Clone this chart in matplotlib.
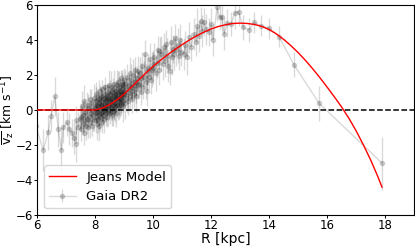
import numpy as np
import matplotlib
matplotlib.use("Agg")
import matplotlib.pyplot as plt

# Jeans model curve
r_model = [6.0, 7.0, 8.0, 8.25, 8.5, 8.75, 9.0, 9.25, 9.5, 9.75, 10.0, 10.25, 10.5,
           10.75, 11.0, 11.25, 11.5, 11.75, 12.0, 12.25, 12.5, 12.75, 13.0, 13.25,
           13.5, 13.75, 14.0, 14.25, 14.5, 14.75, 15.0, 15.25, 15.5, 15.75, 16.0,
           16.25, 16.5, 16.75, 17.0, 17.25, 17.5, 17.75, 17.89]
vz_model = [0.0, 0.0, 0.0, 0.11, 0.31, 0.58, 0.92, 1.31, 1.72, 2.12, 2.5, 2.84, 3.16,
            3.46, 3.74, 4.0, 4.24, 4.45, 4.63, 4.77, 4.87, 4.94, 4.96, 4.94,
            4.88, 4.77, 4.59, 4.34, 4.03, 3.67, 3.27, 2.83, 2.35, 1.84, 1.3,
            0.74, 0.16, -0.48, -1.2, -2.0, -2.86, -3.82, -4.41]

# Gaia DR2 binned points
r_gaia = [5.95, 6.2, 6.37, 6.48, 6.6, 6.72, 6.83, 6.9, 7.03, 7.1, 7.2, 7.27, 7.32, 7.35, 7.41, 7.47,
          7.50, 7.52, 7.54, 7.56, 7.58, 7.60, 7.62, 7.64, 7.66, 7.68, 7.70, 7.72, 7.74,
          7.76, 7.78, 7.80, 7.82, 7.84, 7.86, 7.88, 7.90, 7.92, 7.94, 7.96, 7.98,
          8.00, 8.01, 8.02, 8.03, 8.04, 8.05, 8.06, 8.07, 8.08, 8.09,
          8.10, 8.11, 8.12, 8.13, 8.14, 8.15, 8.16, 8.17, 8.18, 8.19,
          8.20, 8.21, 8.22, 8.23, 8.24, 8.25, 8.26, 8.27, 8.28, 8.29,
          8.30, 8.31, 8.32, 8.33, 8.34, 8.35, 8.36, 8.37, 8.38, 8.39,
          8.40, 8.41, 8.42, 8.43, 8.44, 8.45, 8.46, 8.47, 8.48, 8.49,
          8.50, 8.51, 8.52, 8.53, 8.54, 8.55, 8.56, 8.57, 8.58, 8.59,
          8.60, 8.61, 8.62, 8.63, 8.64, 8.65, 8.66, 8.67, 8.68, 8.69,
          8.70, 8.71, 8.72, 8.73, 8.74, 8.75, 8.76, 8.77, 8.78, 8.79,
          8.80, 8.81, 8.82, 8.83, 8.84, 8.85, 8.86, 8.87, 8.88, 8.89,
          8.90, 8.91, 8.92, 8.93, 8.94, 8.95, 8.96, 8.97, 8.98, 8.99,
          9.00, 9.02, 9.04, 9.06, 9.08, 9.10, 9.12, 9.14, 9.16, 9.18,
          9.20, 9.22, 9.24, 9.26, 9.28, 9.30, 9.32, 9.34, 9.36, 9.38,
          9.40, 9.42, 9.44, 9.46, 9.48,
          9.50, 9.53, 9.56, 9.59, 9.62, 9.65, 9.68, 9.71, 9.74, 9.77,
          9.80, 9.83, 9.86, 9.89, 9.92, 9.95, 9.98,
          10.00, 10.04, 10.08, 10.12, 10.16, 10.20, 10.24, 10.28, 10.32, 10.36,
          10.40, 10.44, 10.48, 10.52, 10.56, 10.60, 10.64, 10.68, 10.72, 10.76,
          10.80, 10.84, 10.88, 10.92, 10.96,
          11.05, 11.11, 11.17, 11.23, 11.3, 11.41, 11.47, 11.52, 11.58, 11.63,
          11.69, 11.75, 11.83, 11.92, 11.99,
          12.06, 12.2, 12.29, 12.36, 12.44, 12.55, 12.68, 12.81, 12.94, 13.1,
          13.3, 13.48, 13.71, 13.99, 14.34, 14.85, 15.72, 17.9]
vz_gaia = [-0.9, -2.3, -1.28, -0.32, 0.78, -1.1, -2.3, -1.0, -0.7, -1.1, -1.3, -1.6, -1.95, -0.6, -1.0, -0.5,
           -0.4, -1.1, 0.2, -0.8, -0.3, -1.3, 0.5, -0.6, -0.1, -0.9, 0.3, -0.5, -1.0,
           0.1, -0.4, 0.6, -0.7, -0.2, 0.4, -0.9, 0.0, -0.3, 0.7, -0.6, 0.2,
           0.1, -0.6, 0.5, -0.2, 0.9, -0.8, 0.3, -0.1, 0.6, -0.5,
           0.2, 1.1, -0.3, 0.4, -0.9, 0.0, 0.7, -0.4, 0.3, 0.8,
           -0.2, 0.5, -0.7, 0.2, 1.2, 0.1, -0.3, 0.6, -0.1, 0.9,
           0.3, -0.5, 0.7, 0.0, 0.4, 1.3, -0.2, 0.5, 0.1, 0.8,
           -0.4, 0.6, 0.2, 1.0, -0.1, 0.7, 0.3, 1.4, 0.0, 0.5,
           0.4, -0.2, 0.9, 0.1, 0.6, 1.3, -0.3, 0.7, 0.2, 1.0,
           0.5, -0.1, 1.2, 0.3, 0.8, 0.0, 1.5, 0.4, 0.9, 0.2,
           1.1, 0.6, -0.2, 0.8, 1.4, 0.3, 0.7, 1.0, 0.1, 1.6,
           0.5, 0.9, 0.2, 1.3, 0.7, 0.4, 1.1, 1.8, 0.6, 0.9,
           0.3, 1.2, 0.8, 1.5, 0.5, 1.0, 0.2, 1.4, 0.9, 1.7,
           0.9, 1.5, 0.4, 1.2, 0.7, 1.9, 1.0, 0.5, 1.4, 2.1,
           0.8, 1.3, 1.7, 0.6, 1.1, 2.0, 1.4, 0.9, 1.6, 2.3,
           1.2, 0.8, 1.8, 1.4, 2.2,
           1.5, 2.1, 1.0, 1.8, 2.5, 1.3, 1.9, 3.2, 1.6, 2.2,
           1.1, 2.4, 1.9, 2.9, 1.7, 2.3, 2.6,
           2.4, 3.0, 2.1, 2.7, 3.4, 2.3, 3.39, 3.2, 2.6, 3.6,
           2.8, 3.77, 3.1, 2.5, 2.25, 3.9, 3.0, 3.5, 3.2, 4.1,
           3.4, 3.7, 3.1, 4.0, 3.29,
           3.2, 3.7, 3.0, 4.15, 3.6, 4.34, 3.9, 4.8, 4.2, 5.1,
           4.5, 5.0, 4.6, 4.43, 4.9,
           4.0, 5.86, 5.3, 5.3, 4.34, 4.95, 4.9, 5.53, 5.62, 4.72,
           4.57, 5.0, 4.8, 4.68, 4.19, 2.59, 0.38, -3.05]
vz_err = [1.0, 1.2, 1.0, 0.9, 1.1, 1.0, 1.3, 0.9, 0.8, 0.9, 0.8, 0.9, 1.0, 0.8, 0.9, 0.7,
          0.8, 0.7, 0.9, 0.6, 0.8, 0.7, 0.9, 0.6, 0.7, 0.8, 0.7, 0.9, 0.6,
          0.8, 0.7, 0.6, 0.9, 0.7, 0.8, 0.6, 0.7, 0.9, 0.8, 0.6, 0.7,
          0.6, 0.7, 0.8, 0.5, 0.7, 0.9, 0.6, 0.7, 0.5, 0.8,
          0.7, 0.6, 0.8, 0.5, 0.9, 0.6, 0.7, 0.8, 0.6, 0.5,
          0.7, 0.8, 0.6, 0.9, 0.5, 0.7, 0.6, 0.8, 0.7, 0.6,
          0.5, 0.8, 0.7, 0.6, 0.9, 0.6, 0.7, 0.5, 0.8, 0.7,
          0.6, 0.9, 0.7, 0.5, 0.8, 0.6, 0.7, 0.9, 0.6, 0.7,
          0.7, 0.6, 0.8, 0.7, 0.5, 0.9, 0.6, 0.7, 0.8, 0.6,
          0.7, 0.8, 0.6, 0.9, 0.7, 0.5, 0.8, 0.6, 0.7, 0.9,
          0.6, 0.7, 0.8, 0.6, 0.9, 0.7, 0.5, 0.8, 0.7, 0.6,
          0.8, 0.6, 0.7, 0.9, 0.6, 0.8, 0.7, 0.5, 0.8, 0.7,
          0.6, 0.9, 0.7, 0.8, 0.6, 0.7, 0.9, 0.6, 0.8, 0.7,
          0.7, 0.8, 0.9, 0.6, 0.8, 0.7, 0.9, 0.8, 0.6, 0.9,
          0.8, 0.7, 0.9, 0.8, 0.6, 0.9, 0.7, 0.8, 0.9, 0.7,
          0.8, 0.9, 0.7, 0.8, 0.9,
          0.8, 0.9, 0.7, 0.9, 0.8, 0.7, 0.9, 0.8, 1.0, 0.8,
          0.9, 0.8, 0.7, 0.9, 0.8, 1.0, 0.8,
          0.9, 0.8, 1.0, 0.9, 0.8, 0.9, 0.8, 1.0, 0.9, 0.8,
          0.9, 0.8, 1.0, 0.9, 0.8, 0.9, 1.0, 0.8, 0.9, 0.8,
          0.9, 1.0, 0.8, 0.9, 0.8,
          0.9, 0.8, 1.0, 0.9, 0.8, 0.9, 0.8, 1.0, 0.9, 0.8,
          0.9, 0.8, 0.9, 0.8, 0.9,
          0.9, 0.8, 0.7, 0.8, 0.9, 0.8, 0.7, 0.9, 0.8, 0.7,
          0.7, 0.6, 0.6, 0.6, 0.6, 0.7, 1.0, 1.5]

fig = plt.figure(figsize=(4.15, 2.46), dpi=100)
ax = fig.add_axes([0.09, 0.126, 0.908, 0.854])

ax.errorbar(r_gaia, vz_gaia, yerr=vz_err, fmt='-o', color='k', ms=3, lw=1,
            elinewidth=1, alpha=0.15, label='Gaia DR2', zorder=1)
ax.plot(r_model, vz_model, color='red', lw=1.0, label='Jeans Model', zorder=3)
ax.axhline(0, color='k', ls='--', lw=1.1, zorder=2)

ax.set_xlim(6, 19)
ax.set_ylim(-6, 6)
ax.set_xticks([6, 8, 10, 12, 14, 16, 18])
ax.set_yticks([-6, -4, -2, 0, 2, 4, 6])
ax.tick_params(labelsize=8.5, length=2, width=0.7, pad=1.2)
for s in ax.spines.values():
    s.set_linewidth(0.8)
ax.set_xlabel('R [kpc]', fontsize=10, labelpad=0)
ax.set_ylabel(r'$\overline{\mathrm{v_z}}$ [km s$^{-1}$]', fontsize=9)
ax.yaxis.set_label_coords(-0.054, 0.5)

ax.legend(loc='lower left', fontsize=9.5)

fig.savefig('out.png', dpi=100)
